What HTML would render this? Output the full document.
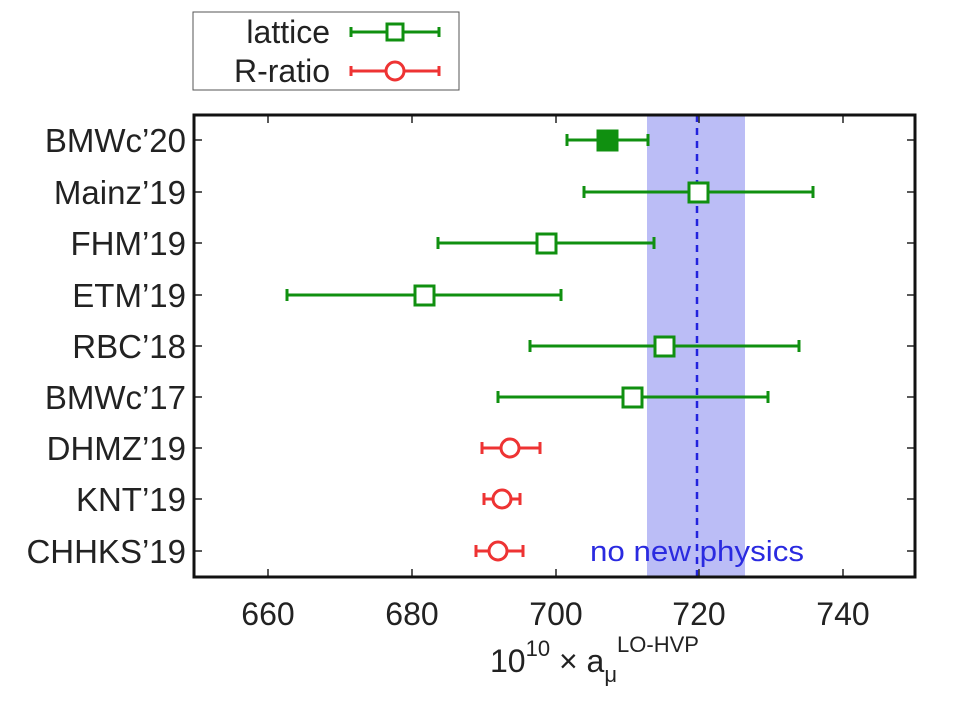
<!DOCTYPE html>
<html><head><meta charset="utf-8"><style>body{margin:0;background:#fff}</style></head><body>
<svg width="960" height="699" xmlns="http://www.w3.org/2000/svg" font-family="Liberation Sans, sans-serif">
<rect width="960" height="699" fill="#fff"/>
<rect x="647" y="115" width="98" height="462" fill="#bbbdf6"/>
<line x1="697" y1="115" x2="697" y2="577" stroke="#2222dd" stroke-width="2.5" stroke-dasharray="7,6"/>
<text x="697" y="561" font-size="29" fill="#2a2ae0" text-anchor="middle" textLength="214" lengthAdjust="spacingAndGlyphs">no new physics</text>
<g stroke="#222" stroke-width="1.5">
<line x1="268" y1="577" x2="268" y2="569"/><line x1="412" y1="577" x2="412" y2="569"/><line x1="556" y1="577" x2="556" y2="569"/><line x1="699" y1="577" x2="699" y2="569"/><line x1="843" y1="577" x2="843" y2="569"/>
<line x1="268" y1="115" x2="268" y2="123"/><line x1="412" y1="115" x2="412" y2="123"/><line x1="556" y1="115" x2="556" y2="123"/><line x1="699" y1="115" x2="699" y2="123"/><line x1="843" y1="115" x2="843" y2="123"/>
</g>
<g stroke="#222" stroke-width="1.5">
<path d="M194 140h8M194 192h8M194 243h8M194 295h8M194 346h8M194 397h8M194 448h8M194 499h8M194 551h8"/>
<path d="M915 140h-8M915 192h-8M915 243h-8M915 295h-8M915 346h-8M915 397h-8M915 448h-8M915 499h-8M915 551h-8"/>
</g>
<rect x="194" y="115" width="721" height="462" fill="none" stroke="#111" stroke-width="3"/>
<g font-size="33" fill="#222" text-anchor="end">
<text x="186" y="152">BMWc’20</text><text x="186" y="204">Mainz’19</text><text x="186" y="255">FHM’19</text><text x="186" y="307">ETM’19</text><text x="186" y="358">RBC’18</text><text x="186" y="409">BMWc’17</text><text x="186" y="460">DHMZ’19</text><text x="186" y="511">KNT’19</text><text x="186" y="563">CHHKS’19</text>
</g>
<g font-size="32" fill="#222" text-anchor="middle">
<text x="268" y="625">660</text><text x="412" y="625">680</text><text x="556" y="625">700</text><text x="699" y="625">720</text><text x="843" y="625">740</text>
<text x="490" y="672" text-anchor="start">10<tspan font-size="22" dy="-16">10</tspan><tspan dy="16"> × a</tspan><tspan font-size="22" dy="10">μ</tspan><tspan font-size="22" dy="-30">LO-HVP</tspan></text>
</g>
<g stroke="#109010" stroke-width="3" fill="none">
<path d="M567 140H648M567 134v12M648 134v12"/><rect x="598" y="131" width="19" height="19" fill="#109010"/>
<path d="M584 192H813M584 186v12M813 186v12"/><rect x="689" y="183" width="19" height="19" fill="#fff"/>
<path d="M438 243H654M438 237v12M654 237v12"/><rect x="537" y="234" width="19" height="19" fill="#fff"/>
<path d="M287 295H561M287 289v12M561 289v12"/><rect x="415" y="286" width="19" height="19" fill="#fff"/>
<path d="M530 346H799M530 340v12M799 340v12"/><rect x="655" y="337" width="19" height="19" fill="#fff"/>
<path d="M498 397H768M498 391v12M768 391v12"/><rect x="623" y="388" width="19" height="19" fill="#fff"/>
</g>
<g stroke="#ee3333" stroke-width="3" fill="none">
<path d="M482 448H540M482 442v12M540 442v12"/><circle cx="510" cy="448" r="9" fill="#fff"/>
<path d="M484 499H520M484 493v12M520 493v12"/><circle cx="502" cy="499" r="9" fill="#fff"/>
<path d="M476 551H523M476 545v12M523 545v12"/><circle cx="498" cy="551" r="9" fill="#fff"/>
</g>
<rect x="193" y="12" width="266" height="78" fill="#fff" stroke="#555" stroke-width="1"/>
<g font-size="32" fill="#222" text-anchor="end"><text x="330" y="43">lattice</text><text x="330" y="82">R-ratio</text></g>
<g stroke="#109010" stroke-width="3" fill="none"><path d="M351 32H439M351 27v10M439 27v10"/><rect x="387" y="24" width="16" height="16" fill="#fff"/></g>
<g stroke="#ee3333" stroke-width="3" fill="none"><path d="M351 71H439M351 66v10M439 66v10"/><circle cx="395" cy="71" r="9" fill="#fff"/></g>
</svg>
</body></html>
